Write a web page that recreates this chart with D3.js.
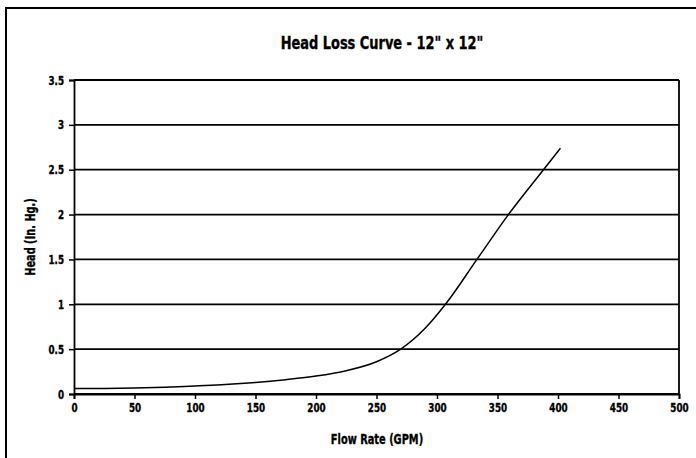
<!DOCTYPE html>
<html>
<head>
<meta charset="utf-8">
<script src="https://cdn.jsdelivr.net/npm/d3@7"></script>
<style>
  body { margin: 0; background: #fff; }
  text { font-family: "DejaVu Sans Condensed", "Liberation Sans Narrow", sans-serif; font-weight: bold; fill: #000; stroke: #000; stroke-width: 0.35px; }
</style>
</head>
<body>
<script>
// chart data
const flowRate = [0, 25, 50, 75, 100, 125, 150, 175, 200, 225, 250, 270, 290, 307, 333, 359, 388, 402];
const headLoss = [0.06, 0.062, 0.066, 0.075, 0.09, 0.105, 0.128, 0.16, 0.2, 0.26, 0.36, 0.5, 0.73, 1.0, 1.5, 2.0, 2.5, 2.74];
const xTicks = [0, 50, 100, 150, 200, 250, 300, 350, 400, 450, 500];
const yTicks = [0, 0.5, 1, 1.5, 2, 2.5, 3, 3.5];

const width = 696, height = 458;
const margin = { top: 80, right: 17, bottom: 64, left: 74 };
const squeeze = 0.78; // narrow the glyphs, the original uses a condensed face

const svg = d3.select('body')
  .append('svg')
  .attr('width', width)
  .attr('height', height);

// outer frame (runs off the right and bottom edges)
svg.append('rect')
  .attr('x', 6).attr('y', 8)
  .attr('width', width + 10).attr('height', height + 10)
  .attr('fill', 'none')
  .attr('stroke', '#000')
  .attr('stroke-width', 2);

const xScale = d3.scaleLinear()
  .domain([0, 500])
  .range([margin.left, width - margin.right]);

const yScale = d3.scaleLinear()
  .domain([0, 3.5])
  .range([height - margin.bottom, margin.top]);

// gridlines
svg.append('g')
  .selectAll('line')
  .data(yTicks)
  .enter()
  .append('line')
  .attr('x1', xScale(0))
  .attr('x2', xScale(500))
  .attr('y1', d => yScale(d))
  .attr('y2', d => yScale(d))
  .attr('stroke', '#000')
  .attr('stroke-width', 1.8);

// right edge of plot area
svg.append('line')
  .attr('x1', xScale(500)).attr('x2', xScale(500))
  .attr('y1', yScale(3.5)).attr('y2', yScale(0))
  .attr('stroke', '#000')
  .attr('stroke-width', 1.8);

// axes
const xAxis = d3.axisBottom(xScale)
  .tickValues(xTicks)
  .tickSize(5)
  .tickPadding(4)
  .tickFormat(d3.format('d'));

const yAxis = d3.axisLeft(yScale)
  .tickValues(yTicks)
  .tickSize(5)
  .tickPadding(5)
  .tickFormat(d => d);

const gx = svg.append('g')
  .attr('transform', `translate(0, ${yScale(0)})`)
  .call(xAxis);

const gy = svg.append('g')
  .attr('transform', `translate(${xScale(0)}, 0)`)
  .call(yAxis);

[gx, gy].forEach(g => {
  g.select('.domain').attr('stroke', '#000').attr('stroke-width', 1.8);
  g.selectAll('.tick line').attr('stroke', '#000').attr('stroke-width', 1.5);
  g.selectAll('.tick text')
    .attr('fill', '#000')
    .style('font-size', '12.5px')
    .style('font-family', '"DejaVu Sans Condensed", sans-serif')
    .style('font-weight', 'bold');
});

gx.selectAll('.tick text').attr('transform', `scale(${squeeze},1)`);
gy.selectAll('.tick text')
  .attr('x', -10 / squeeze)
  .attr('transform', `scale(${squeeze},1)`);

// the curve
const line = d3.line()
  .x((d, i) => xScale(flowRate[i]))
  .y(d => yScale(d))
  .curve(d3.curveMonotoneX);

svg.append('path')
  .datum(headLoss)
  .attr('d', line)
  .attr('fill', 'none')
  .attr('stroke', '#000')
  .attr('stroke-width', 1.5);

// titles
svg.append('text')
  .attr('transform', `translate(382, 49) scale(${squeeze + 0.02},1)`)
  .attr('text-anchor', 'middle')
  .style('font-size', '18px')
  .text('Head Loss Curve - 12" x 12"');

svg.append('text')
  .attr('transform', `translate(377, 444) scale(${squeeze},1)`)
  .attr('text-anchor', 'middle')
  .style('font-size', '14px')
  .text('Flow Rate (GPM)');

svg.append('text')
  .attr('transform', `translate(35, ${(yScale(0) + yScale(3.5)) / 2}) rotate(-90) scale(${squeeze},1)`)
  .attr('text-anchor', 'middle')
  .style('font-size', '14px')
  .text('Head (In. Hg.)');
</script>
</body>
</html>
